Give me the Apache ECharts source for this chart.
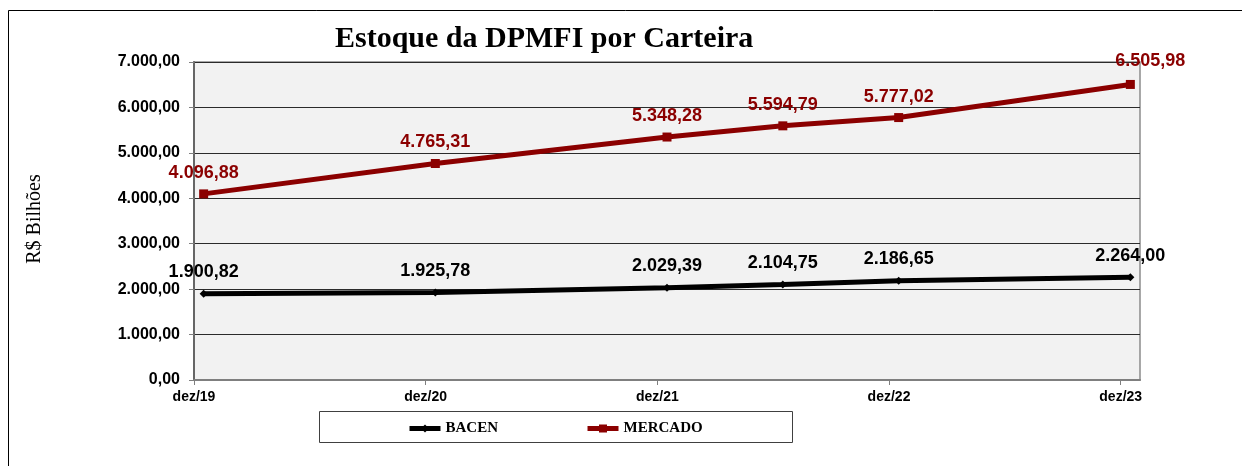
<!DOCTYPE html>
<html>
<head>
<meta charset="utf-8">
<title>Estoque da DPMFI por Carteira</title>
<script src="https://cdn.jsdelivr.net/npm/echarts@6/dist/echarts.min.js"></script>
<style>
  html, body { margin: 0; padding: 0; background: #ffffff; overflow: hidden; }
  #chart { width: 1242px; height: 466px; }
</style>
</head>
<body>
<div id="chart"></div>
<script>
// Period positions, in months counted from the dez/19 tick
const periodMonths = [0.5, 12.5, 24.5, 30.5, 36.5, 48.5];
// Stock held by each portfolio, R$ billions
const bacenValues = [1900.82, 1925.78, 2029.39, 2104.75, 2186.65, 2264.00];
const mercadoValues = [4096.88, 4765.31, 5348.28, 5594.79, 5777.02, 6505.98];
// Year-end tick labels on the horizontal axis
const xTickValues = [0, 12, 24, 36, 48];
const xTickLabels = ['dez/19', 'dez/20', 'dez/21', 'dez/22', 'dez/23'];

// Brazilian number format: thousands '.' and decimal ','
function fmtBR(v) {
  const parts = Number(v).toFixed(2).split('.');
  parts[0] = parts[0].replace(/\B(?=(\d{3})+(?!\d))/g, '.');
  return parts[0] + ',' + parts[1];
}

const sans = '"Liberation Sans", Arial, sans-serif';
const serif = '"Liberation Serif", "Times New Roman", serif';
const RED = '#8B0000';

const chart = echarts.init(document.getElementById('chart'), null, { renderer: 'canvas' });

const option = {
  animation: false,
  backgroundColor: '#ffffff',
  title: {
    text: 'Estoque da DPMFI por Carteira',
    left: 335,
    top: 24,
    padding: 0,
    textStyle: { fontFamily: serif, fontSize: 30, fontWeight: 'bold', color: '#000' }
  },
  graphic: [
    // frame: top and left edges
    {
      type: 'line',
      shape: { x1: 8.5, y1: 10.5, x2: 1242, y2: 10.5 },
      style: { stroke: '#000', lineWidth: 1 },
      silent: true, z: -10
    },
    {
      type: 'line',
      shape: { x1: 8.5, y1: 10.5, x2: 8.5, y2: 466 },
      style: { stroke: '#000', lineWidth: 1 },
      silent: true, z: -10
    },
    // white strip along the right page edge, below the top frame line
    {
      type: 'rect',
      shape: { x: 1236, y: 11, width: 6, height: 455 },
      style: { fill: '#ffffff' },
      silent: true, z: 100
    },
    {
      type: 'text',
      x: 35, y: 219,
      rotation: Math.PI / 2,
      style: {
        text: 'R$ Bilhões',
        fontFamily: serif, fontSize: 20,
        fill: '#000', align: 'center', verticalAlign: 'middle'
      }
    },
    // legend box
    {
      type: 'rect',
      shape: { x: 319.5, y: 411.5, width: 473, height: 31 },
      style: { fill: '#ffffff', stroke: '#404040', lineWidth: 1 },
      silent: true, z: 1
    }
  ],
  legend: {
    left: 407,
    top: 421,
    padding: 0,
    itemWidth: 31,
    itemHeight: 10,
    itemGap: 87,
    z: 5,
    lineStyle: { width: 'inherit' },
    textStyle: { fontFamily: serif, fontSize: 15, fontWeight: 'bold', color: '#000' },
    data: ['BACEN', 'MERCADO']
  },
  grid: {
    left: 194, top: 62, right: 102, bottom: 86,
    show: true,
    backgroundColor: '#f2f2f2',
    borderColor: '#8c8c8c',
    borderWidth: 1.5
  },
  xAxis: {
    type: 'value',
    min: 0, max: 49, interval: 12,
    axisLine: { show: true, onZero: false, lineStyle: { color: '#7f7f7f', width: 2 } },
    axisTick: { show: true, length: 5, lineStyle: { color: '#7f7f7f', width: 1 }, customValues: xTickValues },
    axisLabel: {
      margin: 10,
      fontFamily: sans, fontSize: 14, fontWeight: 'bold', color: '#000',
      customValues: xTickValues,
      formatter: function (v) {
        const i = xTickValues.indexOf(v);
        return i >= 0 ? xTickLabels[i] : '';
      }
    },
    splitLine: { show: false }
  },
  yAxis: {
    type: 'value',
    min: 0, max: 7000, interval: 1000,
    axisLine: { show: true, lineStyle: { color: '#666666', width: 2 } },
    axisTick: { show: true, length: 5, lineStyle: { color: '#7f7f7f', width: 1 } },
    axisLabel: {
      margin: 14,
      fontFamily: sans, fontSize: 16, fontWeight: 'bold', color: '#000',
      formatter: fmtBR
    },
    splitLine: { show: true, lineStyle: { color: '#2b2b2b', width: 1 } }
  },
  series: [
    {
      name: 'BACEN',
      type: 'line',
      data: periodMonths.map((m, i) => [m, bacenValues[i]]),
      color: '#000000',
      lineStyle: { color: '#000000', width: 5 },
      symbol: 'diamond',
      symbolSize: 8,
      itemStyle: { color: '#000000' },
      z: 3,
      label: {
        show: true,
        position: 'top',
        distance: 8.5,
        fontFamily: sans, fontSize: 18, fontWeight: 'bold', color: '#000',
        formatter: p => fmtBR(p.value[1])
      }
    },
    {
      name: 'MERCADO',
      type: 'line',
      data: periodMonths.map((m, i) => {
        const pt = { value: [m, mercadoValues[i]] };
        if (i === periodMonths.length - 1) pt.label = { offset: [20, -2.5] };
        return pt;
      }),
      color: RED,
      lineStyle: { color: RED, width: 5 },
      symbol: 'rect',
      symbolSize: 9,
      itemStyle: { color: RED },
      z: 3,
      label: {
        show: true,
        position: 'top',
        distance: 7.5,
        fontFamily: sans, fontSize: 18, fontWeight: 'bold', color: RED,
        formatter: p => fmtBR(p.value[1])
      }
    }
  ]
};

chart.setOption(option);
</script>
</body>
</html>
